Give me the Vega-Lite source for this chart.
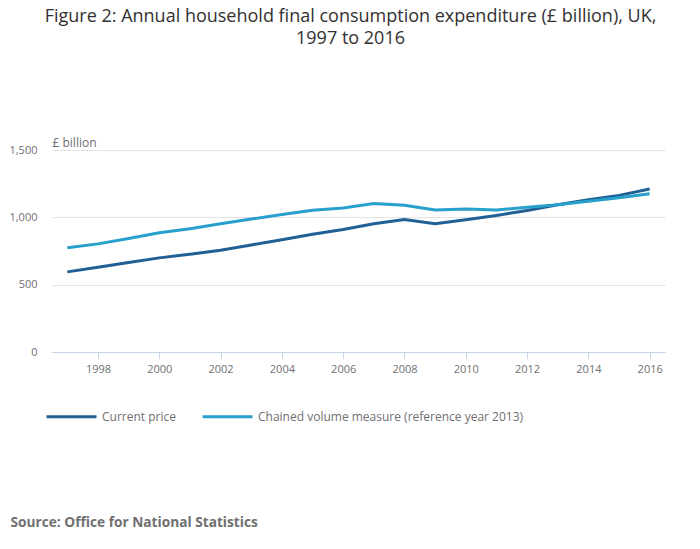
{
  "$schema": "https://vega.github.io/schema/vega-lite/v6.json",
  "width": 613,
  "height": 202,
  "autosize": "none",
  "padding": {"left": 52, "top": 150, "right": 35, "bottom": 197},
  "background": "white",
  "title": {
    "text": ["Figure 2: Annual household final consumption expenditure (£ billion), UK,", "1997 to 2016"],
    "anchor": "middle",
    "dx": -8,
    "offset": 88,
    "font": "Open Sans",
    "fontSize": 18,
    "fontWeight": "normal",
    "color": "#323132",
    "lineHeight": 22
  },
  "config": {
    "view": {"stroke": null},
    "font": "Open Sans"
  },
  "data": {
    "values": [
      {"year": 1997, "series": "Current price", "value": 595},
      {"year": 1998, "series": "Current price", "value": 630},
      {"year": 1999, "series": "Current price", "value": 665},
      {"year": 2000, "series": "Current price", "value": 699},
      {"year": 2001, "series": "Current price", "value": 726},
      {"year": 2002, "series": "Current price", "value": 756},
      {"year": 2003, "series": "Current price", "value": 795},
      {"year": 2004, "series": "Current price", "value": 834},
      {"year": 2005, "series": "Current price", "value": 874},
      {"year": 2006, "series": "Current price", "value": 910},
      {"year": 2007, "series": "Current price", "value": 952},
      {"year": 2008, "series": "Current price", "value": 984},
      {"year": 2009, "series": "Current price", "value": 952},
      {"year": 2010, "series": "Current price", "value": 982},
      {"year": 2011, "series": "Current price", "value": 1014},
      {"year": 2012, "series": "Current price", "value": 1051},
      {"year": 2013, "series": "Current price", "value": 1093},
      {"year": 2014, "series": "Current price", "value": 1131},
      {"year": 2015, "series": "Current price", "value": 1163},
      {"year": 2016, "series": "Current price", "value": 1210},
      {"year": 1997, "series": "Chained volume measure (reference year 2013)", "value": 774},
      {"year": 1998, "series": "Chained volume measure (reference year 2013)", "value": 803},
      {"year": 1999, "series": "Chained volume measure (reference year 2013)", "value": 843},
      {"year": 2000, "series": "Chained volume measure (reference year 2013)", "value": 885},
      {"year": 2001, "series": "Chained volume measure (reference year 2013)", "value": 916},
      {"year": 2002, "series": "Chained volume measure (reference year 2013)", "value": 952},
      {"year": 2003, "series": "Chained volume measure (reference year 2013)", "value": 987},
      {"year": 2004, "series": "Chained volume measure (reference year 2013)", "value": 1021},
      {"year": 2005, "series": "Chained volume measure (reference year 2013)", "value": 1052},
      {"year": 2006, "series": "Chained volume measure (reference year 2013)", "value": 1069},
      {"year": 2007, "series": "Chained volume measure (reference year 2013)", "value": 1103},
      {"year": 2008, "series": "Chained volume measure (reference year 2013)", "value": 1090},
      {"year": 2009, "series": "Chained volume measure (reference year 2013)", "value": 1054},
      {"year": 2010, "series": "Chained volume measure (reference year 2013)", "value": 1061},
      {"year": 2011, "series": "Chained volume measure (reference year 2013)", "value": 1054},
      {"year": 2012, "series": "Chained volume measure (reference year 2013)", "value": 1074},
      {"year": 2013, "series": "Chained volume measure (reference year 2013)", "value": 1093},
      {"year": 2014, "series": "Chained volume measure (reference year 2013)", "value": 1120},
      {"year": 2015, "series": "Chained volume measure (reference year 2013)", "value": 1146},
      {"year": 2016, "series": "Chained volume measure (reference year 2013)", "value": 1175}
    ]
  },
  "mark": {"type": "line", "strokeWidth": 3, "interpolate": "linear"},
  "encoding": {
    "x": {
      "field": "year",
      "type": "quantitative",
      "scale": {"domain": [1996.5, 2016.5], "nice": false, "zero": false},
      "axis": {
        "values": [1998, 2000, 2002, 2004, 2006, 2008, 2010, 2012, 2014, 2016],
        "format": "d",
        "grid": false,
        "domainColor": "#c6d2e6",
        "tickColor": "#c6d2e6",
        "tickSize": 7,
        "labelPadding": 4,
        "labelFont": "Open Sans",
        "labelFontSize": 11,
        "labelColor": "#707071",
        "title": "Source: Office for National Statistics",
        "titleFont": "Open Sans",
        "titleFontSize": 13.7,
        "titleFontWeight": "bold",
        "titleColor": "#707071",
        "titleAnchor": "start",
        "titleAlign": "left",
        "titleX": -42,
        "titleY": 170,
        "titleBaseline": "middle"
      }
    },
    "y": {
      "field": "value",
      "type": "quantitative",
      "scale": {"domain": [0, 1500], "nice": false},
      "axis": {
        "values": [0, 500, 1000, 1500],
        "format": ",d",
        "domain": false,
        "ticks": false,
        "gridColor": "#e3e3e3",
        "labelPadding": 15,
        "labelFont": "Open Sans",
        "labelFontSize": 11,
        "labelColor": "#707071",
        "title": "£ billion",
        "titleAngle": 0,
        "titleX": 0,
        "titleY": -8,
        "titleAlign": "left",
        "titleBaseline": "middle",
        "titleFont": "Open Sans",
        "titleFontSize": 12,
        "titleFontWeight": "normal",
        "titleColor": "#707071"
      }
    },
    "color": {
      "field": "series",
      "type": "nominal",
      "sort": ["Current price", "Chained volume measure (reference year 2013)"],
      "scale": {
        "domain": ["Current price", "Chained volume measure (reference year 2013)"],
        "range": ["#206095", "#27a0cc"]
      },
      "legend": {
        "title": null,
        "orient": "none",
        "direction": "horizontal",
        "legendX": -7,
        "legendY": 240,
        "symbolType": "stroke",
        "symbolSize": 2500,
        "symbolStrokeWidth": 3,
        "labelFont": "Open Sans",
        "labelFontSize": 12,
        "labelColor": "#707071",
        "labelOffset": 4,
        "labelLimit": 0,
        "columnPadding": 20
      }
    }
  }
}
